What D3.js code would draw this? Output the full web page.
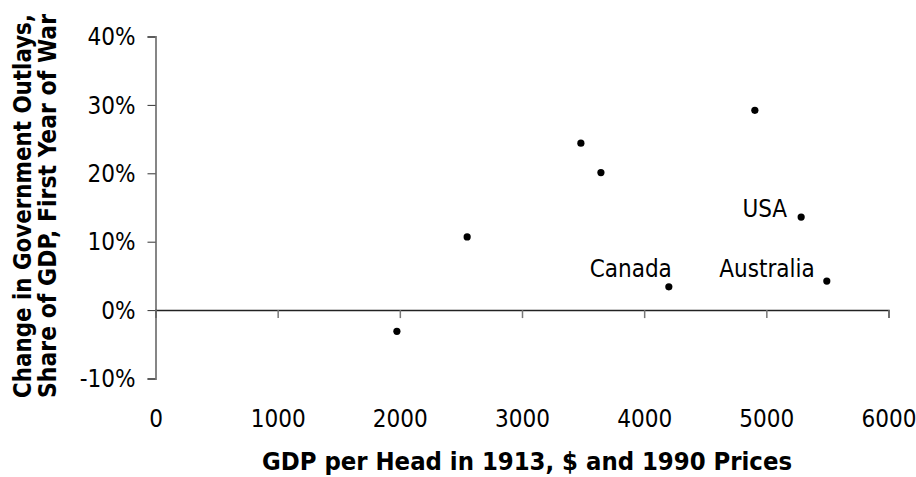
<!DOCTYPE html>
<html>
<head>
<meta charset="utf-8">
<script src="https://cdn.jsdelivr.net/npm/d3@7"></script>
<style>
  html, body { margin: 0; padding: 0; background: #fff; }
  svg { display: block; }
  text { font-family: "DejaVu Sans Condensed", "DejaVu Sans", sans-serif; font-stretch: condensed; fill: #000; }
</style>
</head>
<body>
<svg id="chart" width="916" height="477"></svg>
<script>
// ---- data ----
const gdpPerHead = [1976, 2551, 3482, 3646, 4906, 5285, 4202, 5495];
const outlayChange = [-3.1, 10.7, 24.4, 20.1, 29.2, 13.6, 3.4, 4.25]; // percent
const countryLabels = ["", "", "", "", "", "USA", "Canada", "Australia"];
const xTicks = [0, 1000, 2000, 3000, 4000, 5000, 6000];
const yTicks = [-10, 0, 10, 20, 30, 40];
const xTitle = "GDP per Head in 1913, $ and 1990 Prices";
const yTitleLines = ["Change in Government Outlays,", "Share of GDP, First Year of War"];

// ---- layout ----
const svg = d3.select("#chart");
const x = d3.scaleLinear().domain([0, 6000]).range([155.5, 888.5]);
const y = d3.scaleLinear().domain([-10, 40]).range([378.5, 36.5]);

// y axis (gray line at x=0)
const yAxis = d3.axisLeft(y).tickValues(yTicks).tickSize(8).tickPadding(12)
  .tickFormat(d => String(d) + "%");
const gy = svg.append("g").attr("transform", `translate(${x(0)},0)`).call(yAxis);
gy.select(".domain").attr("stroke", "#868686").attr("stroke-width", 2);
gy.selectAll(".tick line").attr("stroke", "#333").attr("stroke-width", 1);
gy.selectAll(".tick text").style("font-size", "24px").attr("dy", "0.34em");

// x axis line at y=0 with ticks below
const xAxisLine = d3.axisBottom(x).tickValues(xTicks).tickSize(8).tickFormat("");
const gx = svg.append("g").attr("transform", `translate(0,${y(0)})`).call(xAxisLine);
gx.select(".domain").attr("stroke", "#222").attr("stroke-width", 1.5);
gx.selectAll(".tick line").attr("stroke", "#777").attr("stroke-width", 1.5);

// x tick labels at bottom
const xAxisLabels = d3.axisBottom(x).tickValues(xTicks).tickSize(0).tickPadding(0)
  .tickFormat(d3.format("d"));
const gxl = svg.append("g").attr("transform", `translate(0,410)`).call(xAxisLabels);
gxl.select(".domain").remove();
gxl.selectAll(".tick text").style("font-size", "24px").attr("dy", "0.72em");

// points
const pts = gdpPerHead.map((g, i) => ({ g, v: outlayChange[i], label: countryLabels[i] }));
svg.append("g").selectAll("circle").data(pts).join("circle")
  .attr("cx", d => x(d.g)).attr("cy", d => y(d.v)).attr("r", 3.6).attr("fill", "#000");

// labels
const labelOffset = { "USA": [-14, 0], "Canada": [3, -10], "Australia": [-12, -4] };
svg.append("g").selectAll("text").data(pts.filter(d => d.label)).join("text")
  .attr("x", d => x(d.g) + labelOffset[d.label][0])
  .attr("y", d => y(d.v) + labelOffset[d.label][1])
  .attr("text-anchor", "end")
  .style("font-size", "24px")
  .text(d => d.label);

// x title
svg.append("text")
  .attr("x", 527).attr("y", 470)
  .attr("text-anchor", "middle")
  .style("font-size", "24px").style("font-weight", "bold")
  .attr("textLength", 530).attr("lengthAdjust", "spacingAndGlyphs")
  .text(xTitle);

// y title (two rotated lines)
const ycenter = 206;
yTitleLines.forEach((t, i) => {
  svg.append("text")
    .attr("transform", `translate(${31 + i * 25},${ycenter}) rotate(-90)`)
    .attr("text-anchor", "middle")
    .style("font-size", "24px").style("font-weight", "bold")
    .attr("textLength", 384).attr("lengthAdjust", "spacingAndGlyphs")
    .text(t);
});
</script>
</body>
</html>
